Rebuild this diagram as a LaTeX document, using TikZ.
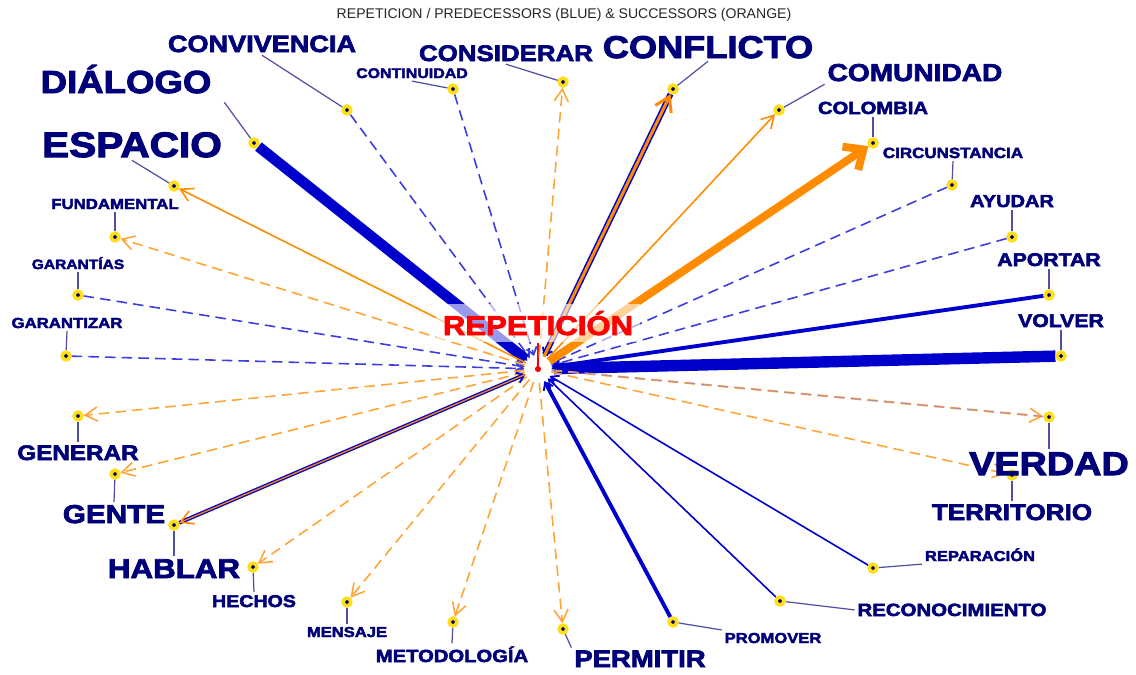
\documentclass[tikz,border=0pt]{standalone}
\usepackage{fontspec}
\setmainfont{Liberation Sans}
\newfontfamily\heavy{Liberation Sans}[UprightFont=* Bold,FakeStretch=1.15,FakeBold=3]
\usetikzlibrary{arrows.meta,shadows}
\pgfdeclarelayer{background}
\pgfsetlayers{background,main}
\definecolor{ink}{RGB}{0,0,120}
\definecolor{predblue}{RGB}{0,0,205}
\definecolor{dashblue}{RGB}{60,60,225}
\definecolor{succorange}{RGB}{255,140,0}
\definecolor{dashorange}{RGB}{255,165,55}
\definecolor{ringyellow}{RGB}{255,222,20}
\definecolor{leadgray}{RGB}{80,80,160}
\begin{document}
\begin{tikzpicture}[x=0.02cm,y=-0.02cm,
  dot/.style={circle,inner sep=0pt,minimum size=4.4pt,fill=ink,draw=ringyellow,line width=2pt,
    drop shadow={shadow xshift=0.7pt,shadow yshift=-0.7pt,fill=black!25}},
  lbl/.style={anchor=base,inner sep=1.5pt,text=ink,font=\heavy\fontsize{#1}{#1}\selectfont},
  leader/.style={draw=leadgray,line width=0.7pt},
  pred/.style={draw=predblue,-{Straight Barb[length=4pt,width=6pt,line width=1pt]}},
  preddash/.style={draw=dashblue,line width=0.9pt,dash pattern=on 6pt off 3.5pt,-{Straight Barb[length=4pt,width=6pt,line width=1pt]}},
  succ/.style={draw=succorange,-{Straight Barb[length=7pt,width=8pt,line width=0.9pt]}},
  succdash/.style={draw=dashorange,line width=0.9pt,dash pattern=on 6pt off 3.5pt,-{Straight Barb[length=7pt,width=8pt,line width=0.9pt]}},
  hub/.style={circle,fill=red,inner sep=0pt,minimum size=3.5pt,outer sep=6pt}]
\useasboundingbox (0,0) rectangle (1136,674);

\node[anchor=base,text=black!85,font=\fontsize{8}{8}\selectfont] (title) at (564,18) {REPETICION / PREDECESSORS (BLUE) \& SUCCESSORS (ORANGE)};

\node[hub] (hub) at (538,369) {};
\node[lbl=15.4,text=red,fill=white,fill opacity=0.6,text opacity=1,inner sep=4pt] (t-rep) at (538,335) {REPETICIÓN};

\node[dot] (convivencia) at (347,110) {};
\node[dot] (dialogo) at (254,143) {};
\node[dot] (espacio) at (174,186) {};
\node[dot] (fundamental) at (115,237) {};
\node[dot] (garantias) at (78,295) {};
\node[dot] (garantizar) at (66,356) {};
\node[dot] (generar) at (78,416) {};
\node[dot] (gente) at (115,474) {};
\node[dot] (hablar) at (174,525) {};
\node[dot] (hechos) at (253,567) {};
\node[dot] (mensaje) at (347,602) {};
\node[dot] (metodologia) at (453,622) {};
\node[dot] (permitir) at (563,629) {};
\node[dot] (promover) at (673,622) {};
\node[dot] (reconocimiento) at (780,601) {};
\node[dot] (reparacion) at (873,568) {};
\node[dot] (territorio) at (1012,475) {};
\node[dot] (verdad) at (1049,417) {};
\node[dot] (volver) at (1061,356) {};
\node[dot] (aportar) at (1049,295) {};
\node[dot] (ayudar) at (1012,237) {};
\node[dot] (circunstancia) at (952,185) {};
\node[dot] (colombia) at (873,143) {};
\node[dot] (comunidad) at (779,110) {};
\node[dot] (conflicto) at (673,89) {};
\node[dot] (considerar) at (563,82) {};
\node[dot] (continuidad) at (453,89) {};

\node[lbl=13.4] (t-convivencia) at (262,52) {CONVIVENCIA};
\node[lbl=18.1] (t-dialogo) at (126,93) {DIÁLOGO};
\node[lbl=20.1] (t-espacio) at (132,157) {ESPACIO};
\node[lbl=8.3] (t-fundamental) at (115,209) {FUNDAMENTAL};
\node[lbl=7.7] (t-garantias) at (78,269) {GARANTÍAS};
\node[lbl=8.3] (t-garantizar) at (67,328) {GARANTIZAR};
\node[lbl=12] (t-generar) at (78,460) {GENERAR};
\node[lbl=14.7] (t-gente) at (114,523) {GENTE};
\node[lbl=15.5] (t-hablar) at (174,578) {HABLAR};
\node[lbl=9.7] (t-hechos) at (254,607) {HECHOS};
\node[lbl=8.2] (t-mensaje) at (347,637) {MENSAJE};
\node[lbl=10] (t-metodologia) at (452,662) {METODOLOGÍA};
\node[lbl=13.6] (t-permitir) at (640,667) {PERMITIR};
\node[lbl=8.2] (t-promover) at (773,643) {PROMOVER};
\node[lbl=10.1] (t-reconocimiento) at (952,616) {RECONOCIMIENTO};
\node[lbl=8.2] (t-reparacion) at (980,561) {REPARACIÓN};
\node[lbl=12.9] (t-territorio) at (1012,520) {TERRITORIO};
\node[lbl=18.7] (t-verdad) at (1049,475) {VERDAD};
\node[lbl=10.5] (t-volver) at (1061,327) {VOLVER};
\node[lbl=10.5] (t-aportar) at (1049,266) {APORTAR};
\node[lbl=9.9] (t-ayudar) at (1012,207) {AYUDAR};
\node[lbl=8.4] (t-circunstancia) at (953,158) {CIRCUNSTANCIA};
\node[lbl=10] (t-colombia) at (873,114) {COLOMBIA};
\node[lbl=13.9] (t-comunidad) at (915,81) {COMUNIDAD};
\node[lbl=17.9] (t-conflicto) at (708,58) {CONFLICTO};
\node[lbl=12.8] (t-considerar) at (506,61) {CONSIDERAR};
\node[lbl=7.9] (t-continuidad) at (412,78) {CONTINUIDAD};

\begin{pgfonlayer}{background}
\draw[red,line width=1pt] (hub.center) -- (t-rep.south);
\draw[leader] (convivencia) -- (t-convivencia.south);
\draw[leader] (dialogo) -- ([shift={(10,6)}]t-dialogo.south east);
\draw[leader] (espacio) -- (t-espacio.south);
\draw[leader] (fundamental) -- (t-fundamental.south);
\draw[leader] (garantias) -- (t-garantias.south);
\draw[leader] (garantizar) -- (t-garantizar.south);
\draw[leader] (generar) -- (t-generar.north);
\draw[leader] (gente) -- (t-gente.north);
\draw[leader] (hablar) -- (t-hablar.north);
\draw[leader] (hechos) -- (t-hechos.north);
\draw[leader] (mensaje) -- (t-mensaje.north);
\draw[leader] (metodologia) -- (t-metodologia.north);
\draw[leader] (permitir) -- (t-permitir.north west);
\draw[leader] (promover) -- (t-promover.north west);
\draw[leader] (reconocimiento) -- (t-reconocimiento.west);
\draw[leader] (reparacion) -- (t-reparacion.south west);
\draw[leader] (territorio) -- (t-territorio.north);
\draw[leader] (verdad) -- (t-verdad.north);
\draw[leader] (volver) -- (t-volver.south);
\draw[leader] (aportar) -- (t-aportar.south);
\draw[leader] (ayudar) -- (t-ayudar.south);
\draw[leader] (circunstancia) -- (t-circunstancia.south);
\draw[leader] (colombia) -- (t-colombia.south);
\draw[leader] (comunidad) -- (t-comunidad.south west);
\draw[leader] (conflicto) -- (t-conflicto.south);
\draw[leader] (considerar) -- (t-considerar.south);
\draw[leader] (continuidad) -- (t-continuidad.south);

\draw[preddash] (convivencia) -- (hub);
\draw[preddash] (continuidad) -- (hub);
\draw[preddash] (garantias) -- (hub);
\draw[preddash] (garantizar) -- (hub);
\draw[preddash] (ayudar) -- (hub);
\draw[preddash] (circunstancia) -- (hub);
\draw[pred,line width=6pt] (dialogo) -- (hub);
\draw[pred,line width=6.5pt] (volver) -- (hub);
\draw[pred,line width=2.2pt] (aportar) -- (hub);
\draw[pred,line width=2.2pt] (promover) -- (hub);
\draw[pred,line width=0.9pt] (reconocimiento) -- (hub);
\draw[pred,line width=0.9pt] (reparacion) -- (hub);

\draw[succ,line width=0.9pt] (hub) -- (espacio);
\draw[succ,line width=0.9pt] (hub) -- (comunidad);
\draw[succ,line width=4.5pt,-{Straight Barb[length=9pt,width=16pt,line width=4.5pt]}] (hub) -- (colombia);
\draw[succdash] (hub) -- (fundamental);
\draw[succdash] (hub) -- (generar);
\draw[succdash] (hub) -- (gente);
\draw[succdash] (hub) -- (hechos);
\draw[succdash] (hub) -- (mensaje);
\draw[succdash] (hub) -- (metodologia);
\draw[succdash] (hub) -- (permitir);
\draw[succdash] (hub) -- (territorio);
\draw[succdash] (hub) -- (considerar);

\draw[pred,line width=3.4pt] (conflicto) -- (hub);
\draw[succ,line width=1.7pt,-{Straight Barb[length=8pt,width=10pt,line width=1.7pt]}] (hub) -- (conflicto);
\draw[pred,line width=2.2pt] (hablar) -- (hub);
\draw[succ,line width=0.7pt] (hub) -- (hablar);
\draw[succdash,line width=1.2pt] (hub) -- (verdad);
\draw[dashblue!60,line width=0.4pt,dash pattern=on 6pt off 3.5pt] (hub) -- (verdad);
\end{pgfonlayer}
\end{tikzpicture}
\end{document}
